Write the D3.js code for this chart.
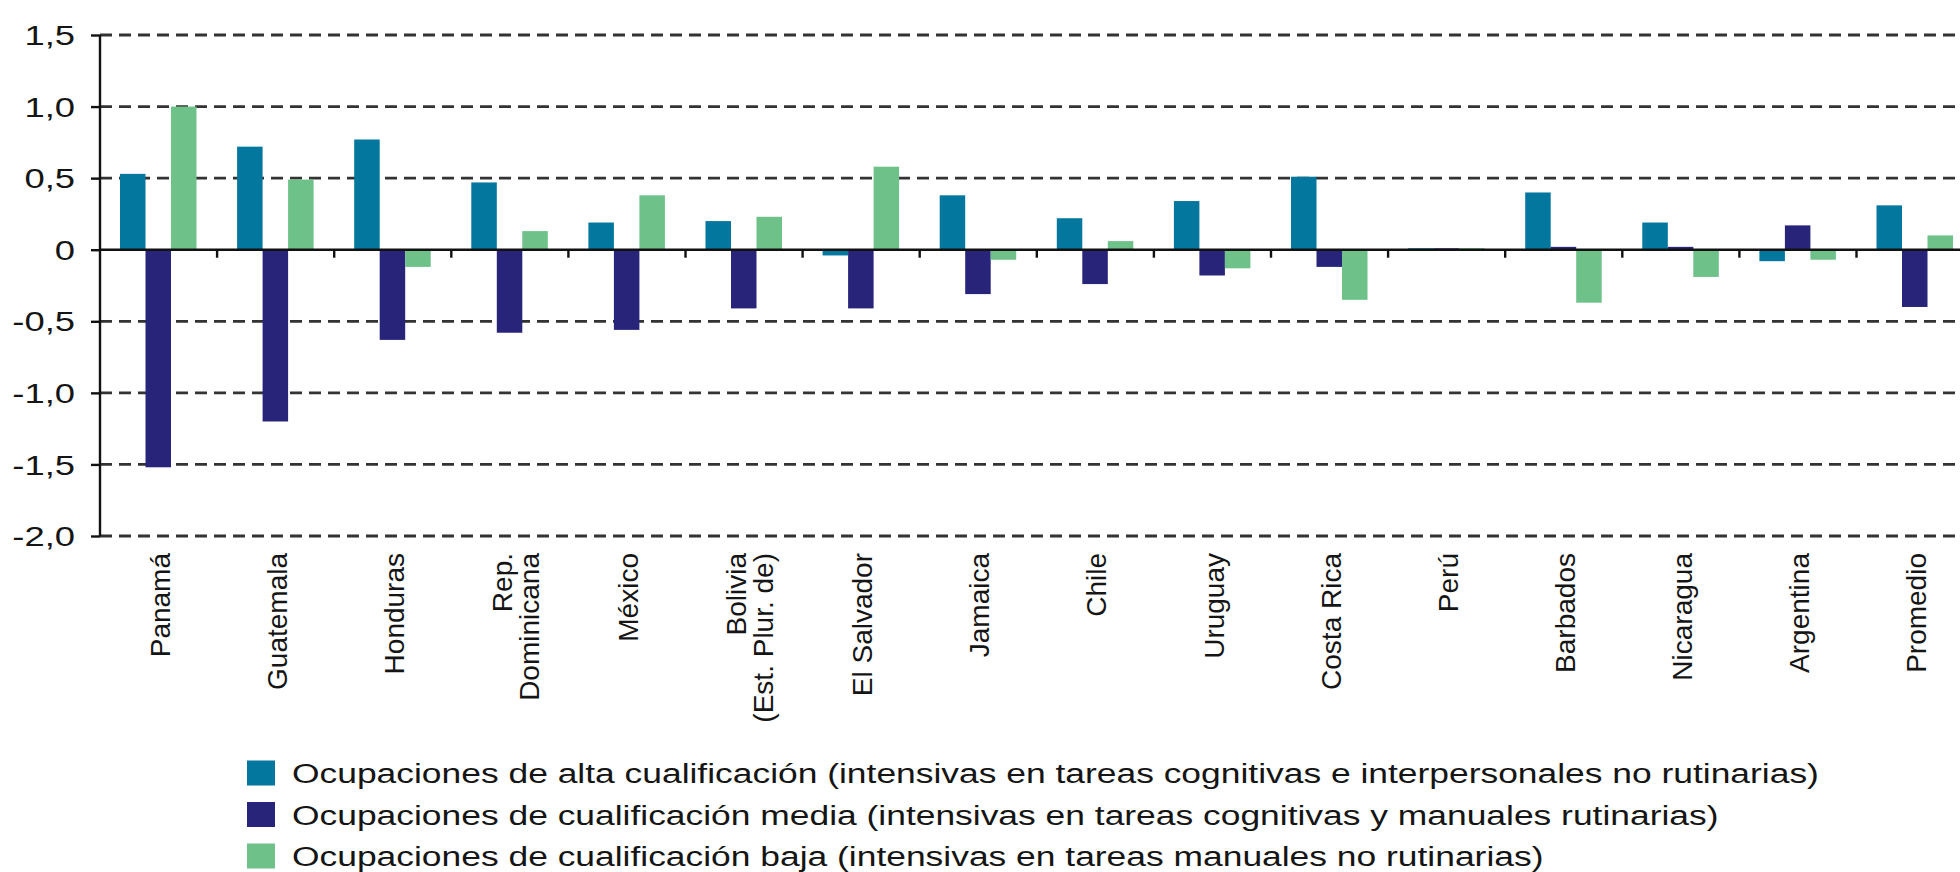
<!DOCTYPE html>
<html>
<head>
<meta charset="utf-8">
<script src="https://cdn.jsdelivr.net/npm/d3@7"></script>
<style>
  body { margin: 0; background: #fff; }
  text { font-family: "Liberation Sans", Arial, sans-serif; fill: #151515; }
</style>
</head>
<body>
<svg id="chart" width="1960" height="872"></svg>
<script>
// countries, label lines as written under the axis
var categories = ["Panamá", "Guatemala", "Honduras", "Rep. Dominicana", "México", "Bolivia (Est. Plur. de)",
    "El Salvador", "Jamaica", "Chile", "Uruguay", "Costa Rica", "Perú", "Barbados", "Nicaragua", "Argentina", "Promedio"];
var categoryLines = [["Panamá"], ["Guatemala"], ["Honduras"], ["Rep.", "Dominicana"], ["México"], ["Bolivia", "(Est. Plur. de)"],
    ["El Salvador"], ["Jamaica"], ["Chile"], ["Uruguay"], ["Costa Rica"], ["Perú"], ["Barbados"], ["Nicaragua"], ["Argentina"], ["Promedio"]];

var series = ["alta", "media", "baja"];
var seriesNames = [
    "Ocupaciones de alta cualificación (intensivas en tareas cognitivas e interpersonales no rutinarias)",
    "Ocupaciones de cualificación media (intensivas en tareas cognitivas y manuales rutinarias)",
    "Ocupaciones de cualificación baja (intensivas en tareas manuales no rutinarias)"
];
var seriesColors = ["#04779f", "#27247a", "#6dc189"];

var alta  = [0.53, 0.72, 0.77, 0.47, 0.19, 0.20, -0.04, 0.38, 0.22, 0.34, 0.51, 0.01, 0.40, 0.19, -0.08, 0.31];
var media = [-1.52, -1.20, -0.63, -0.58, -0.56, -0.41, -0.41, -0.31, -0.24, -0.18, -0.12, 0.01, 0.02, 0.02, 0.17, -0.40];
var baja  = [1.00, 0.49, -0.12, 0.13, 0.38, 0.23, 0.58, -0.07, 0.06, -0.13, -0.35, 0.01, -0.37, -0.19, -0.07, 0.10];

var yTicks = [1.5, 1.0, 0.5, 0, -0.5, -1.0, -1.5, -2.0];
var yTickLabels = ["1,5", "1,0", "0,5", "0", "-0,5", "-1,0", "-1,5", "-2,0"];

var width = 1960, height = 872;
var x0 = 100, band = 117.1;

var svg = d3.select("#chart");

var x = d3.scaleBand()
    .domain(categories)
    .range([x0, x0 + band * categories.length])
    .padding(0);

var xInner = d3.scaleBand()
    .domain(series)
    .range([20, 20 + 76.5])
    .padding(0);

var y = d3.scaleLinear()
    .domain([-2, 1.5])
    .range([536, 35]);

var rows = categories.map(function(c, i) {
    return {cat: c, alta: alta[i], media: media[i], baja: baja[i]};
});

// dashed gridlines
svg.append("g")
        .attr("class", "grid")
    .selectAll("line")
        .data(yTicks.filter(function(d) { return d !== 0; }))
        .enter()
    .append("line")
        .attr("x1", x0)
        .attr("x2", width)
        .attr("y1", function(d) { return y(d); })
        .attr("y2", function(d) { return y(d); })
        .attr("stroke", "#333")
        .attr("stroke-width", 2.8)
        .attr("stroke-dasharray", "12,7");

// bars
var groups = svg.append("g")
        .attr("class", "bars")
    .selectAll("g")
        .data(rows)
        .enter()
    .append("g")
        .attr("transform", function(d) { return "translate(" + x(d.cat) + ",0)"; });

groups.selectAll("rect")
        .data(function(d) { return series.map(function(s, j) { return {key: s, value: d[s], color: seriesColors[j]}; }); })
        .enter()
    .append("rect")
        .attr("x", function(d) { return xInner(d.key); })
        .attr("width", xInner.bandwidth())
        .attr("y", function(d) { return y(Math.max(0, d.value)); })
        .attr("height", function(d) { return Math.abs(y(d.value) - y(0)); })
        .attr("fill", function(d) { return d.color; });

// y axis
var yAxis = svg.append("g")
        .attr("transform", "translate(" + x0 + ",0)")
        .call(d3.axisLeft(y).tickValues(yTicks).tickSize(9).tickFormat(""));
yAxis.select(".domain").remove();
yAxis.selectAll(".tick line").attr("stroke", "#111").attr("stroke-width", 2.4);
svg.append("line")
    .attr("x1", x0).attr("x2", x0)
    .attr("y1", y(1.5)).attr("y2", y(-2))
    .attr("stroke", "#111")
    .attr("stroke-width", 2.4);

// tick labels are drawn wide in the source
svg.append("g")
        .attr("class", "ylabels")
    .selectAll("text")
        .data(yTicks)
        .enter()
    .append("text")
        .attr("transform", function(d) { return "translate(75," + y(d) + ") scale(1.3,1)"; })
        .attr("text-anchor", "end")
        .attr("dy", "0.36em")
        .style("font-size", "28px")
        .text(function(d, i) { return yTickLabels[i]; });

// zero line with category ticks
svg.append("line")
    .attr("x1", x0).attr("x2", width)
    .attr("y1", y(0)).attr("y2", y(0))
    .attr("stroke", "#111")
    .attr("stroke-width", 2.6);

svg.append("g")
    .selectAll("line")
        .data(categories.slice(1))
        .enter()
    .append("line")
        .attr("x1", function(d) { return x(d); })
        .attr("x2", function(d) { return x(d); })
        .attr("y1", y(0))
        .attr("y2", y(0) + 8)
        .attr("stroke", "#111")
        .attr("stroke-width", 2.4);

// category labels, rotated
var labelTop = 553;
var catLabels = svg.append("g")
        .attr("class", "xlabels")
    .selectAll("g")
        .data(categories)
        .enter()
    .append("g");

catLabels.each(function(c, i) {
    var lines = categoryLines[i];
    var cx = x(c) + x.bandwidth() / 2;
    var offsets = lines.length === 1 ? [1] : [-8, 19];
    lines.forEach(function(t, k) {
        d3.select(this).append("text")
            .attr("transform", "translate(" + (cx + offsets[k]) + "," + labelTop + ") rotate(-90)")
            .attr("text-anchor", "end")
            .attr("dy", "0.36em")
            .style("font-size", "28px")
            .text(t);
    }, this);
});

// legend
var legend = svg.append("g")
        .attr("class", "legend")
    .selectAll("g")
        .data(seriesNames)
        .enter()
    .append("g")
        .attr("transform", function(d, i) { return "translate(247," + (773 + i * 41.5) + ")"; });

legend.append("rect")
    .attr("x", 0)
    .attr("y", -12.5)
    .attr("width", 28)
    .attr("height", 25)
    .attr("fill", function(d, i) { return seriesColors[i]; });

legend.append("text")
    .attr("transform", "translate(45,0) scale(1.265,1)")
    .attr("dy", "0.36em")
    .style("font-size", "28px")
    .text(function(d) { return d; });
</script>
</body>
</html>
